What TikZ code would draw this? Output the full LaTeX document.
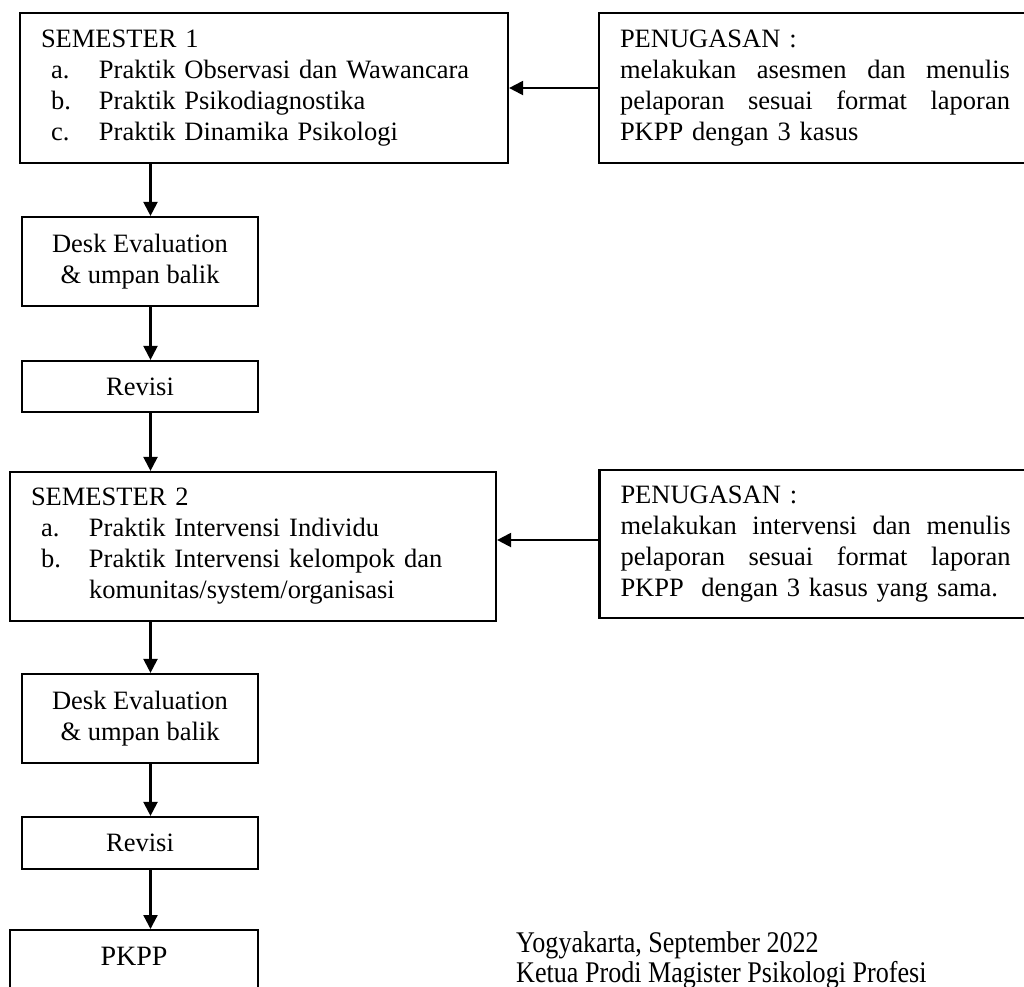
\documentclass[tikz,border=0pt]{standalone}
\usepackage{fontspec}
\setmainfont{Liberation Serif}
\newfontfamily\narrowserif[FakeStretch=0.87]{Liberation Serif}
\usetikzlibrary{arrows.meta}
\newcommand\itm[2]{\hspace*{10pt}\makebox[48pt][l]{#1}#2}
\newcommand\jfour[4]{\leavevmode\hbox to 390pt{#1\hfill#2\hfill#3\hfill#4}}
\begin{document}
\begin{tikzpicture}[x=1pt,y=-1pt,
  box/.style={draw=black, line width=2.2pt, inner ysep=0pt, font=\fontsize{26.5}{31}\selectfont},
  listbox/.style={box, align=left, inner xsep=21pt},
  penbox/.style={box, align=left, text width=390pt, inner xsep=21pt},
  cbox/.style={box, align=center, inner xsep=0pt, minimum width=236pt},
  arr/.style={line width=2.2pt, -{Triangle[length=14pt,width=14pt]}}]
\useasboundingbox (0,0) rectangle (1024,986);
\fill[white] (0,0) rectangle (1024,986);
\clip (0,0) rectangle (1024,986);
\coordinate (ax) at (150.5,0);

\node[listbox, text width=446pt, minimum height=150pt] (sem1) at (264,88)
  {SEMESTER 1\\
   \itm{a.}{Praktik Observasi dan Wawancara}\\
   \itm{b.}{Praktik Psikodiagnostika}\\
   \itm{c.}{Praktik Dinamika Psikologi}};
\node[penbox, minimum height=150pt] (pen1) at (815,88)
  {PENUGASAN :\\
   \jfour{melakukan}{asesmen}{dan}{menulis}\\
   \jfour{pelaporan}{sesuai}{format}{laporan}\\
   PKPP dengan 3 kasus};
\node[cbox, minimum height=89pt] (desk1) at (140,261.5) {Desk Evaluation\\ \& umpan balik};
\node[cbox, minimum height=51pt] (rev1) at (140,386.5) {Revisi};
\node[listbox, text width=444pt, minimum height=149pt] (sem2) at (253,546.5)
  {SEMESTER 2\\
   \itm{a.}{Praktik Intervensi Individu}\\
   \itm{b.}{Praktik Intervensi kelompok dan}\\
   \hspace*{58pt}komunitas/system/organisasi};
\node[penbox, minimum height=148pt] (pen2) at (815.5,544)
  {PENUGASAN :\\
   \jfour{melakukan}{intervensi}{dan}{menulis}\\
   \jfour{pelaporan}{sesuai}{format}{laporan}\\
   PKPP\ \ dengan 3 kasus yang sama.};
\node[cbox, minimum height=89pt] (desk2) at (140,718.5) {Desk Evaluation\\ \& umpan balik};
\node[cbox, minimum height=52pt] (rev2) at (140,843) {Revisi};
\node[box, anchor=north, minimum width=248pt, inner xsep=0pt, inner ysep=15pt,
      text height=20pt, text depth=60pt, font=\fontsize{28}{31}\selectfont] (pkpp) at (134,929) {PKPP};
\node[anchor=west, align=left, inner sep=0pt, font=\fontsize{30}{30}\narrowserif] (sign) at (516,960)
  {Yogyakarta, September 2022\\ Ketua Prodi Magister Psikologi Profesi};

\draw[arr] (pen1.west) -- (pen1.west -| sem1.east);
\draw[arr] ([yshift=4pt]pen2.west) -- ([yshift=4pt]pen2.west -| sem2.east);
\draw[arr] (sem1.south -| ax) -- (desk1.north -| ax);
\draw[arr] (desk1.south -| ax) -- (rev1.north -| ax);
\draw[arr] (rev1.south -| ax) -- (sem2.north -| ax);
\draw[arr] (sem2.south -| ax) -- (desk2.north -| ax);
\draw[arr] (desk2.south -| ax) -- (rev2.north -| ax);
\draw[arr] (rev2.south -| ax) -- (pkpp.north -| ax);
\end{tikzpicture}
\end{document}
